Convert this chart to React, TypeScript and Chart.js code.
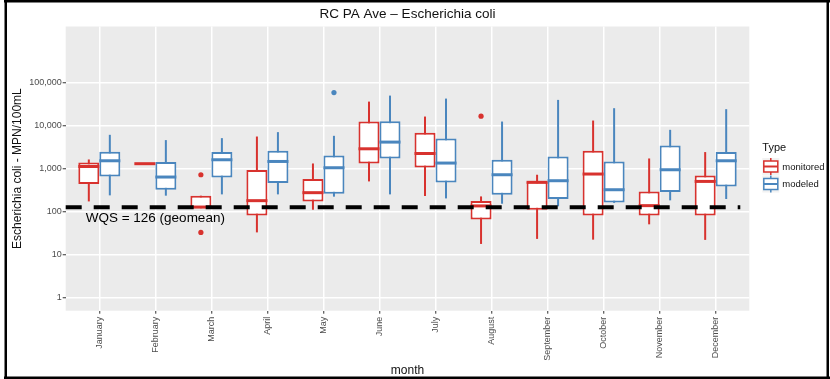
import React, { useEffect, useRef } from 'react';
import { Chart, registerables } from 'chart.js';

Chart.register(...registerables);

// ---- data ----
const months = ['January', 'February', 'March', 'April', 'May', 'June', 'July', 'August', 'September', 'October', 'November', 'December'];

const monitoredLow = [173, 1300, 120, 33, 111, 504, 231, 17.8, 23.3, 22.4, 50.8, 22.1];
const monitoredQ1 = [438, 1300, 120, 81, 173, 1316, 1063, 66, 111, 81, 81, 81];
const monitoredMedian = [1120, 1300, 128, 180, 276, 2884, 2245, 136, 480, 748, 138, 504];
const monitoredQ3 = [1390, 1300, 235, 925, 573, 12380, 6770, 177, 500, 2594, 295, 694];
const monitoredHigh = [1630, 1300, 235, 5560, 1316, 35980, 16170, 226, 720, 13060, 1719, 2420];

const modeledLow = [239, 235, 252, 252, 223, 252, 203, 153, 133, 160, 183, 197];
const modeledQ1 = [658, 323, 623, 462, 261, 1719, 478, 248, 197, 164, 286, 386];
const modeledMedian = [1520, 637, 1604, 1465, 1047, 4125, 1345, 720, 523, 323, 940, 1520];
const modeledQ3 = [2457, 1418, 2420, 2594, 2018, 12650, 5000, 1604, 1913, 1465, 3440, 2420];
const modeledHigh = [6090, 4590, 5100, 7030, 5770, 49590, 42270, 12380, 39400, 25300, 7950, 24000];

const monitoredOutlierMonths = ['March', 'March', 'August'];
const monitoredOutlierValues = [720, 33, 16500];
const modeledOutlierMonths = ['May'];
const modeledOutlierValues = [58200];

const yTickValues = [1, 10, 100, 1000, 10000, 100000];
const wqsValue = 126;
const wqsLabel = 'WQS = 126 (geomean)';
const chartTitle = 'RC PA Ave – Escherichia coli';
const yTitle = 'Escherichia coli - MPN/100mL';
const xTitle = 'month';
const legendTitle = 'Type';
const seriesNames = ['monitored', 'modeled'];

// ---- style ----
const RED = '#d8322e';
const BLUE = '#4a86be';
const FONT = '"Liberation Sans", Arial, sans-serif';
const DODGE = 0.75;

const boxPlugin = {
  id: 'boxplotDecor',
  beforeDraw(chart: any) {
    const { ctx, chartArea: a } = chart;
    ctx.save();
    ctx.fillStyle = '#ffffff';
    ctx.fillRect(0, 0, chart.width, chart.height);
    ctx.fillStyle = '#ebebeb';
    ctx.fillRect(a.left, a.top, a.right - a.left, a.bottom - a.top);
    ctx.restore();
  },
  beforeDatasetsDraw(chart: any) {
    const { ctx } = chart;
    const y = chart.scales.y;
    const sets: [number, number[], number[], string][] = [
      [0, monitoredLow, monitoredHigh, RED],
      [1, modeledLow, modeledHigh, BLUE],
    ];
    ctx.save();
    sets.forEach(([di, lo, hi, col]) => {
      const meta = chart.getDatasetMeta(di);
      ctx.strokeStyle = col;
      ctx.lineWidth = 2;
      meta.data.forEach((el: any, i: number) => {
        ctx.beginPath();
        ctx.moveTo(el.x, y.getPixelForValue(lo[i]));
        ctx.lineTo(el.x, y.getPixelForValue(hi[i]));
        ctx.stroke();
      });
    });
    ctx.restore();
  },
  afterDatasetsDraw(chart: any) {
    const { ctx, chartArea: a } = chart;
    const y = chart.scales.y;
    const sets: [number, number[], string][] = [
      [0, monitoredMedian, RED],
      [1, modeledMedian, BLUE],
    ];
    ctx.save();
    sets.forEach(([di, med, col]) => {
      const meta = chart.getDatasetMeta(di);
      ctx.strokeStyle = col;
      ctx.lineWidth = 3;
      meta.data.forEach((el: any, i: number) => {
        const py = y.getPixelForValue(med[i]);
        ctx.beginPath();
        ctx.moveTo(el.x - el.width / 2, py);
        ctx.lineTo(el.x + el.width / 2, py);
        ctx.stroke();
      });
    });
    // WQS dashed line
    const wy = y.getPixelForValue(wqsValue);
    ctx.strokeStyle = '#000';
    ctx.lineWidth = 4;
    ctx.setLineDash([16, 12]);
    ctx.beginPath();
    ctx.moveTo(a.left, wy);
    ctx.lineTo(a.right - 9, wy);
    ctx.stroke();
    ctx.setLineDash([]);
    ctx.fillStyle = '#000';
    ctx.font = `13.5px ${FONT}`;
    ctx.textAlign = 'left';
    ctx.textBaseline = 'middle';
    ctx.fillText(wqsLabel, a.left + 20, wy + 11);
    ctx.restore();
  },
  afterDraw(chart: any) {
    const { ctx, chartArea: a } = chart;
    const cx = (a.left + a.right) / 2;
    const cy = (a.top + a.bottom) / 2;
    ctx.save();
    ctx.fillStyle = '#111';
    ctx.textBaseline = 'middle';
    ctx.textAlign = 'center';
    ctx.font = `13.5px ${FONT}`;
    ctx.fillText(chartTitle, cx, 14);
    ctx.font = `12px ${FONT}`;
    ctx.fillText(xTitle, cx, 371);
    ctx.save();
    ctx.translate(17.5, cy);
    ctx.rotate(-Math.PI / 2);
    ctx.fillText(yTitle, 0, 0);
    ctx.restore();

    // legend
    const lx = a.right + 13;
    ctx.textAlign = 'left';
    ctx.font = `11px ${FONT}`;
    ctx.fillText(legendTitle, lx, 148);
    const cols = [RED, BLUE];
    const rows = [166.5, 184];
    seriesNames.forEach((name, k) => {
      const ry = rows[k];
      ctx.fillStyle = '#f2f2f2';
      ctx.fillRect(lx, ry - 8.5, 17, 17);
      ctx.strokeStyle = cols[k];
      ctx.lineWidth = 1.5;
      ctx.beginPath();
      ctx.moveTo(lx + 8.5, ry - 8.5);
      ctx.lineTo(lx + 8.5, ry - 5.5);
      ctx.moveTo(lx + 8.5, ry + 5.5);
      ctx.lineTo(lx + 8.5, ry + 8.5);
      ctx.stroke();
      ctx.fillStyle = '#fff';
      ctx.fillRect(lx + 1.5, ry - 5.5, 14, 11);
      ctx.strokeRect(lx + 1.5, ry - 5.5, 14, 11);
      ctx.lineWidth = 2;
      ctx.beginPath();
      ctx.moveTo(lx + 1.5, ry);
      ctx.lineTo(lx + 15.5, ry);
      ctx.stroke();
      ctx.fillStyle = '#111';
      ctx.font = `9.5px ${FONT}`;
      ctx.fillText(name, lx + 20, ry + 0.5);
    });

    // frame
    ctx.fillStyle = '#000';
    ctx.fillRect(4, 0, chart.width - 4, 2.5);
    ctx.fillRect(4.5, 0, 2.5, chart.height);
    ctx.fillRect(4, chart.height - 2.5, chart.width - 4, 2.5);
    ctx.fillRect(chart.width - 3.5, 0, 2.5, chart.height);
    ctx.restore();
  },
};

export default function App() {
  const ref = useRef<HTMLCanvasElement | null>(null);

  useEffect(() => {
    if (!ref.current) return;
    const monthIndex = (m: string) => months.indexOf(m) + 1;
    const chart = new Chart(ref.current, {
      type: 'bar',
      data: {
        datasets: [
          {
            label: seriesNames[0],
            data: months.map((_, i) => ({ x: i + 1, y: [monitoredQ1[i], monitoredQ3[i]] })) as any,
            backgroundColor: '#ffffff',
            borderColor: RED,
            borderWidth: 2,
            borderSkipped: false,
            barPercentage: 1,
            categoryPercentage: DODGE,
          } as any,
          {
            label: seriesNames[1],
            data: months.map((_, i) => ({ x: i + 1, y: [modeledQ1[i], modeledQ3[i]] })) as any,
            backgroundColor: '#ffffff',
            borderColor: BLUE,
            borderWidth: 2,
            borderSkipped: false,
            barPercentage: 1,
            categoryPercentage: DODGE,
          } as any,
          {
            type: 'scatter',
            label: seriesNames[0] + ' outliers',
            data: monitoredOutlierMonths.map((m, k) => ({ x: monthIndex(m) - DODGE / 4, y: monitoredOutlierValues[k] })),
            backgroundColor: RED,
            borderWidth: 0,
            pointRadius: 2.6,
          } as any,
          {
            type: 'scatter',
            label: seriesNames[1] + ' outliers',
            data: modeledOutlierMonths.map((m, k) => ({ x: monthIndex(m) + DODGE / 4, y: modeledOutlierValues[k] })),
            backgroundColor: BLUE,
            borderWidth: 0,
            pointRadius: 2.6,
          } as any,
        ],
      },
      options: {
        animation: false,
        responsive: false,
        devicePixelRatio: 1,
        layout: { padding: { left: 0, top: 26.5, right: 80.7, bottom: 0 } },
        plugins: {
          legend: { display: false },
          tooltip: { enabled: false },
          title: { display: false },
        },
        scales: {
          x: {
            type: 'linear',
            min: 0.4,
            max: 12.6,
            offset: false,
            afterBuildTicks: (s: any) => {
              s.ticks = months.map((_, i) => ({ value: i + 1 }));
            },
            afterFit: (s: any) => {
              s.height = 68.3;
            },
            ticks: {
              autoSkip: false,
              minRotation: 90,
              maxRotation: 90,
              padding: 3,
              color: '#4d4d4d',
              font: { family: FONT, size: 9 },
              callback: (v: any) => months[Math.round(Number(v)) - 1],
            },
            grid: { color: '#ffffff', lineWidth: 1.5, tickColor: '#333333', tickLength: 3, tickWidth: 1, offset: false },
            border: { display: false },
          },
          y: {
            type: 'logarithmic',
            min: Math.pow(10, -0.3),
            max: Math.pow(10, 6.3),
            afterBuildTicks: (s: any) => {
              s.ticks = yTickValues.map((v) => ({ value: v }));
            },
            afterFit: (s: any) => {
              s.width = 65.7;
            },
            ticks: {
              padding: 1,
              color: '#4d4d4d',
              font: { family: FONT, size: 9 },
              callback: (v: any) => Number(v).toLocaleString('en-US'),
            },
            grid: { color: '#ffffff', lineWidth: 1.5, tickColor: '#333333', tickLength: 3, tickWidth: 1 },
            border: { display: false },
          },
        },
      } as any,
      plugins: [boxPlugin],
    });
    return () => chart.destroy();
  }, []);

  return (
    <div style={{ position: 'fixed', left: 0, top: 0, width: 830, height: 379, background: '#fff' }}>
      <canvas ref={ref} width={830} height={379} style={{ display: 'block', width: 830, height: 379 }} />
    </div>
  );
}
